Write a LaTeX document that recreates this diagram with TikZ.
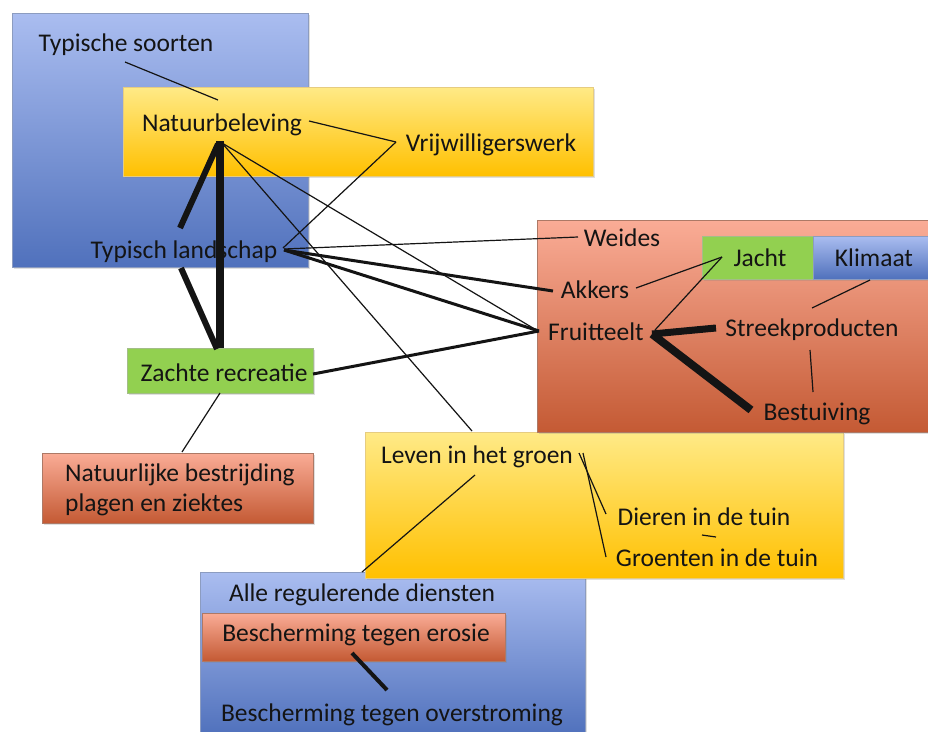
\documentclass[tikz,border=0pt]{standalone}
\usepackage{fontspec}
\setmainfont{Carlito}
\usetikzlibrary{calc,shadows}
\definecolor{bluetop}{RGB}{170,189,240}
\definecolor{bluebot}{RGB}{80,113,188}
\definecolor{yeltop}{RGB}{255,234,135}
\definecolor{yelbot}{RGB}{255,192,0}
\definecolor{redtop}{RGB}{250,172,150}
\definecolor{redbot}{RGB}{196,90,52}
\definecolor{grn}{RGB}{146,208,80}
\definecolor{ink}{RGB}{20,20,20}
\tikzset{
  boxbase/.style={rectangle, inner sep=0pt, line width=0.6pt,
    drop shadow={shadow xshift=2pt, shadow yshift=-2pt, opacity=0.25}},
  bluebox/.style={boxbase, top color=bluetop, bottom color=bluebot, draw=bluebot!80!black!60},
  yellowbox/.style={boxbase, top color=yeltop, bottom color=yelbot, draw=yelbot!80!black!50},
  redbox/.style={boxbase, top color=redtop, bottom color=redbot, draw=redbot!70!black!70},
  greenbox/.style={boxbase, fill=grn, draw=grn!70!black!60},
  txt/.style={inner sep=0pt, text=ink, font=\fontsize{25.5}{30}\selectfont, text height=19pt, text depth=3pt},
  thinline/.style={line width=1.2pt, ink},
  midline/.style={line width=3pt, ink},
  thickline/.style={line width=6pt, ink},
  heavyline/.style={line width=8pt, ink}
}
\begin{document}
\begin{tikzpicture}[x=1pt,y=-1pt]
\useasboundingbox[fill=white] (0,0) rectangle (928,731);
% boxes
\node[bluebox, minimum width=296pt, minimum height=254pt] (b1) at (160,140) {};
\node[yellowbox, minimum width=470pt, minimum height=89pt] (ynat) at (358,131.5) {};
\node[bluebox, minimum width=385pt, minimum height=163pt] (bbot) at (392.5,653.5) {};
\node[redbox, minimum width=303pt, minimum height=48pt] (ebox) at (353.5,637) {};
\node[yellowbox, minimum width=478pt, minimum height=146pt] (yleven) at (604,505) {};
\node[redbox, minimum width=393pt, minimum height=212pt] (rright) at (733.5,326) {};
\node[greenbox, minimum width=111pt, minimum height=43pt] (jbox) at (757.5,257.5) {};
\node[bluebox, minimum width=117pt, minimum height=43pt] (kbox) at (871.5,257.5) {};
\node[greenbox, minimum width=186pt, minimum height=45pt] (zbox) at (220,370.5) {};
\node[redbox, minimum width=271pt, minimum height=70pt] (nbbox) at (177.5,488) {};
% texts
\node[txt] (ts) at (126,43) {Typische soorten};
\node[txt] (nat) at (222,123) {Natuurbeleving};
\node[txt] (vw) at (491,143) {Vrijwilligerswerk};
\node[txt] (tl) at (184,250) {Typisch landschap};
\node[txt] (we) at (622,238) {Weides};
\node[txt] (ja) at (760,258) {Jacht};
\node[txt] (kl) at (874,258) {Klimaat};
\node[txt] (ak) at (595,290) {Akkers};
\node[txt] (fr) at (596,332) {Fruitteelt};
\node[txt] (sp) at (812,328) {Streekproducten};
\node[txt] (be) at (817,412) {Bestuiving};
\node[txt] (zr) at (224,373) {Zachte recreatie};
\node[inner sep=0pt, text=ink, font=\fontsize{25.5}{30}\selectfont, align=left, anchor=west] (nb) at (65,490) {Natuurlijke bestrijding\\plagen en ziektes};
\node[txt] (lg) at (477,455) {Leven in het groen};
\node[txt] (di) at (704,517) {Dieren in de tuin};
\node[txt] (gr) at (717,558) {Groenten in de tuin};
\node[txt] (ard) at (362,593) {Alle regulerende diensten};
\node[txt] (bte) at (356,633) {Bescherming tegen erosie};
\node[txt] (bto) at (392,713) {Bescherming tegen overstroming};
% connectors
\draw[thinline] ($(ts)+(-1,19)$) -- ($(nat)+(-4,-23)$);
\draw[thinline] ($(nat)+(87,-2)$) -- ($(vw)+(-95,-1)$);
\draw[thinline] ($(vw)+(-95,-1)$) -- ($(tl)+(99,-2)$);
\draw[heavyline] ($(nat)+(-2,18)$) -- ($(zr)+(-4,-25)$);
\draw[thickline] ($(nat)+(-4,21)$) -- ($(tl)+(-4,-22)$);
\draw[thickline] ($(tl)+(-3,18)$) -- ($(zr)+(-7,-24)$);
\draw[thinline] ($(nat)+(0,20)$) -- ($(fr)+(-58,-1)$);
\draw[thinline] ($(nat)+(0,20)$) -- ($(lg)+(-5,-24)$);
\draw[thinline] ($(tl)+(100,-1)$) -- ($(we)+(-44,-1)$);
\draw[midline] ($(tl)+(100,0)$) -- ($(ak)+(-42,1)$);
\draw[midline] ($(tl)+(100,0)$) -- ($(fr)+(-57,-1)$);
\draw[midline] ($(zr)+(89,1)$) -- ($(fr)+(-57,-1)$);
\draw[thinline] ($(ak)+(41,-2)$) -- ($(ja)+(-38,-1)$);
\draw[thinline] ($(fr)+(59,-2)$) -- ($(ja)+(-38,-1)$);
\draw[line width=7pt, ink] ($(fr)+(56,2)$) -- ($(sp)+(-96,0)$);
\draw[heavyline] ($(fr)+(56,2)$) -- ($(be)+(-66,-2)$);
\draw[thinline] ($(kl)+(-4,22)$) -- ($(sp)+(0,-20)$);
\draw[thinline] ($(sp)+(-2,22)$) -- ($(be)+(-4,-20)$);
\draw[thinline] ($(zr)+(-4,20)$) -- ($(nbbox)+(4.5,-36)$);
\draw[thinline] ($(lg)+(-2,20)$) -- ($(ard)+(0,-21)$);
\draw[thinline] ($(lg)+(102,-2)$) -- ($(di)+(-98,-3)$);
\draw[thinline] ($(lg)+(106,-2)$) -- ($(gr)+(-111,-1)$);
\draw[thinline] ($(di)+(-2,18)$) -- ($(gr)+(-1,-21)$);
\draw[line width=4pt, ink] ($(bte)+(-4,20)$) -- ($(bto)+(-5,-23)$);
\end{tikzpicture}
\end{document}
